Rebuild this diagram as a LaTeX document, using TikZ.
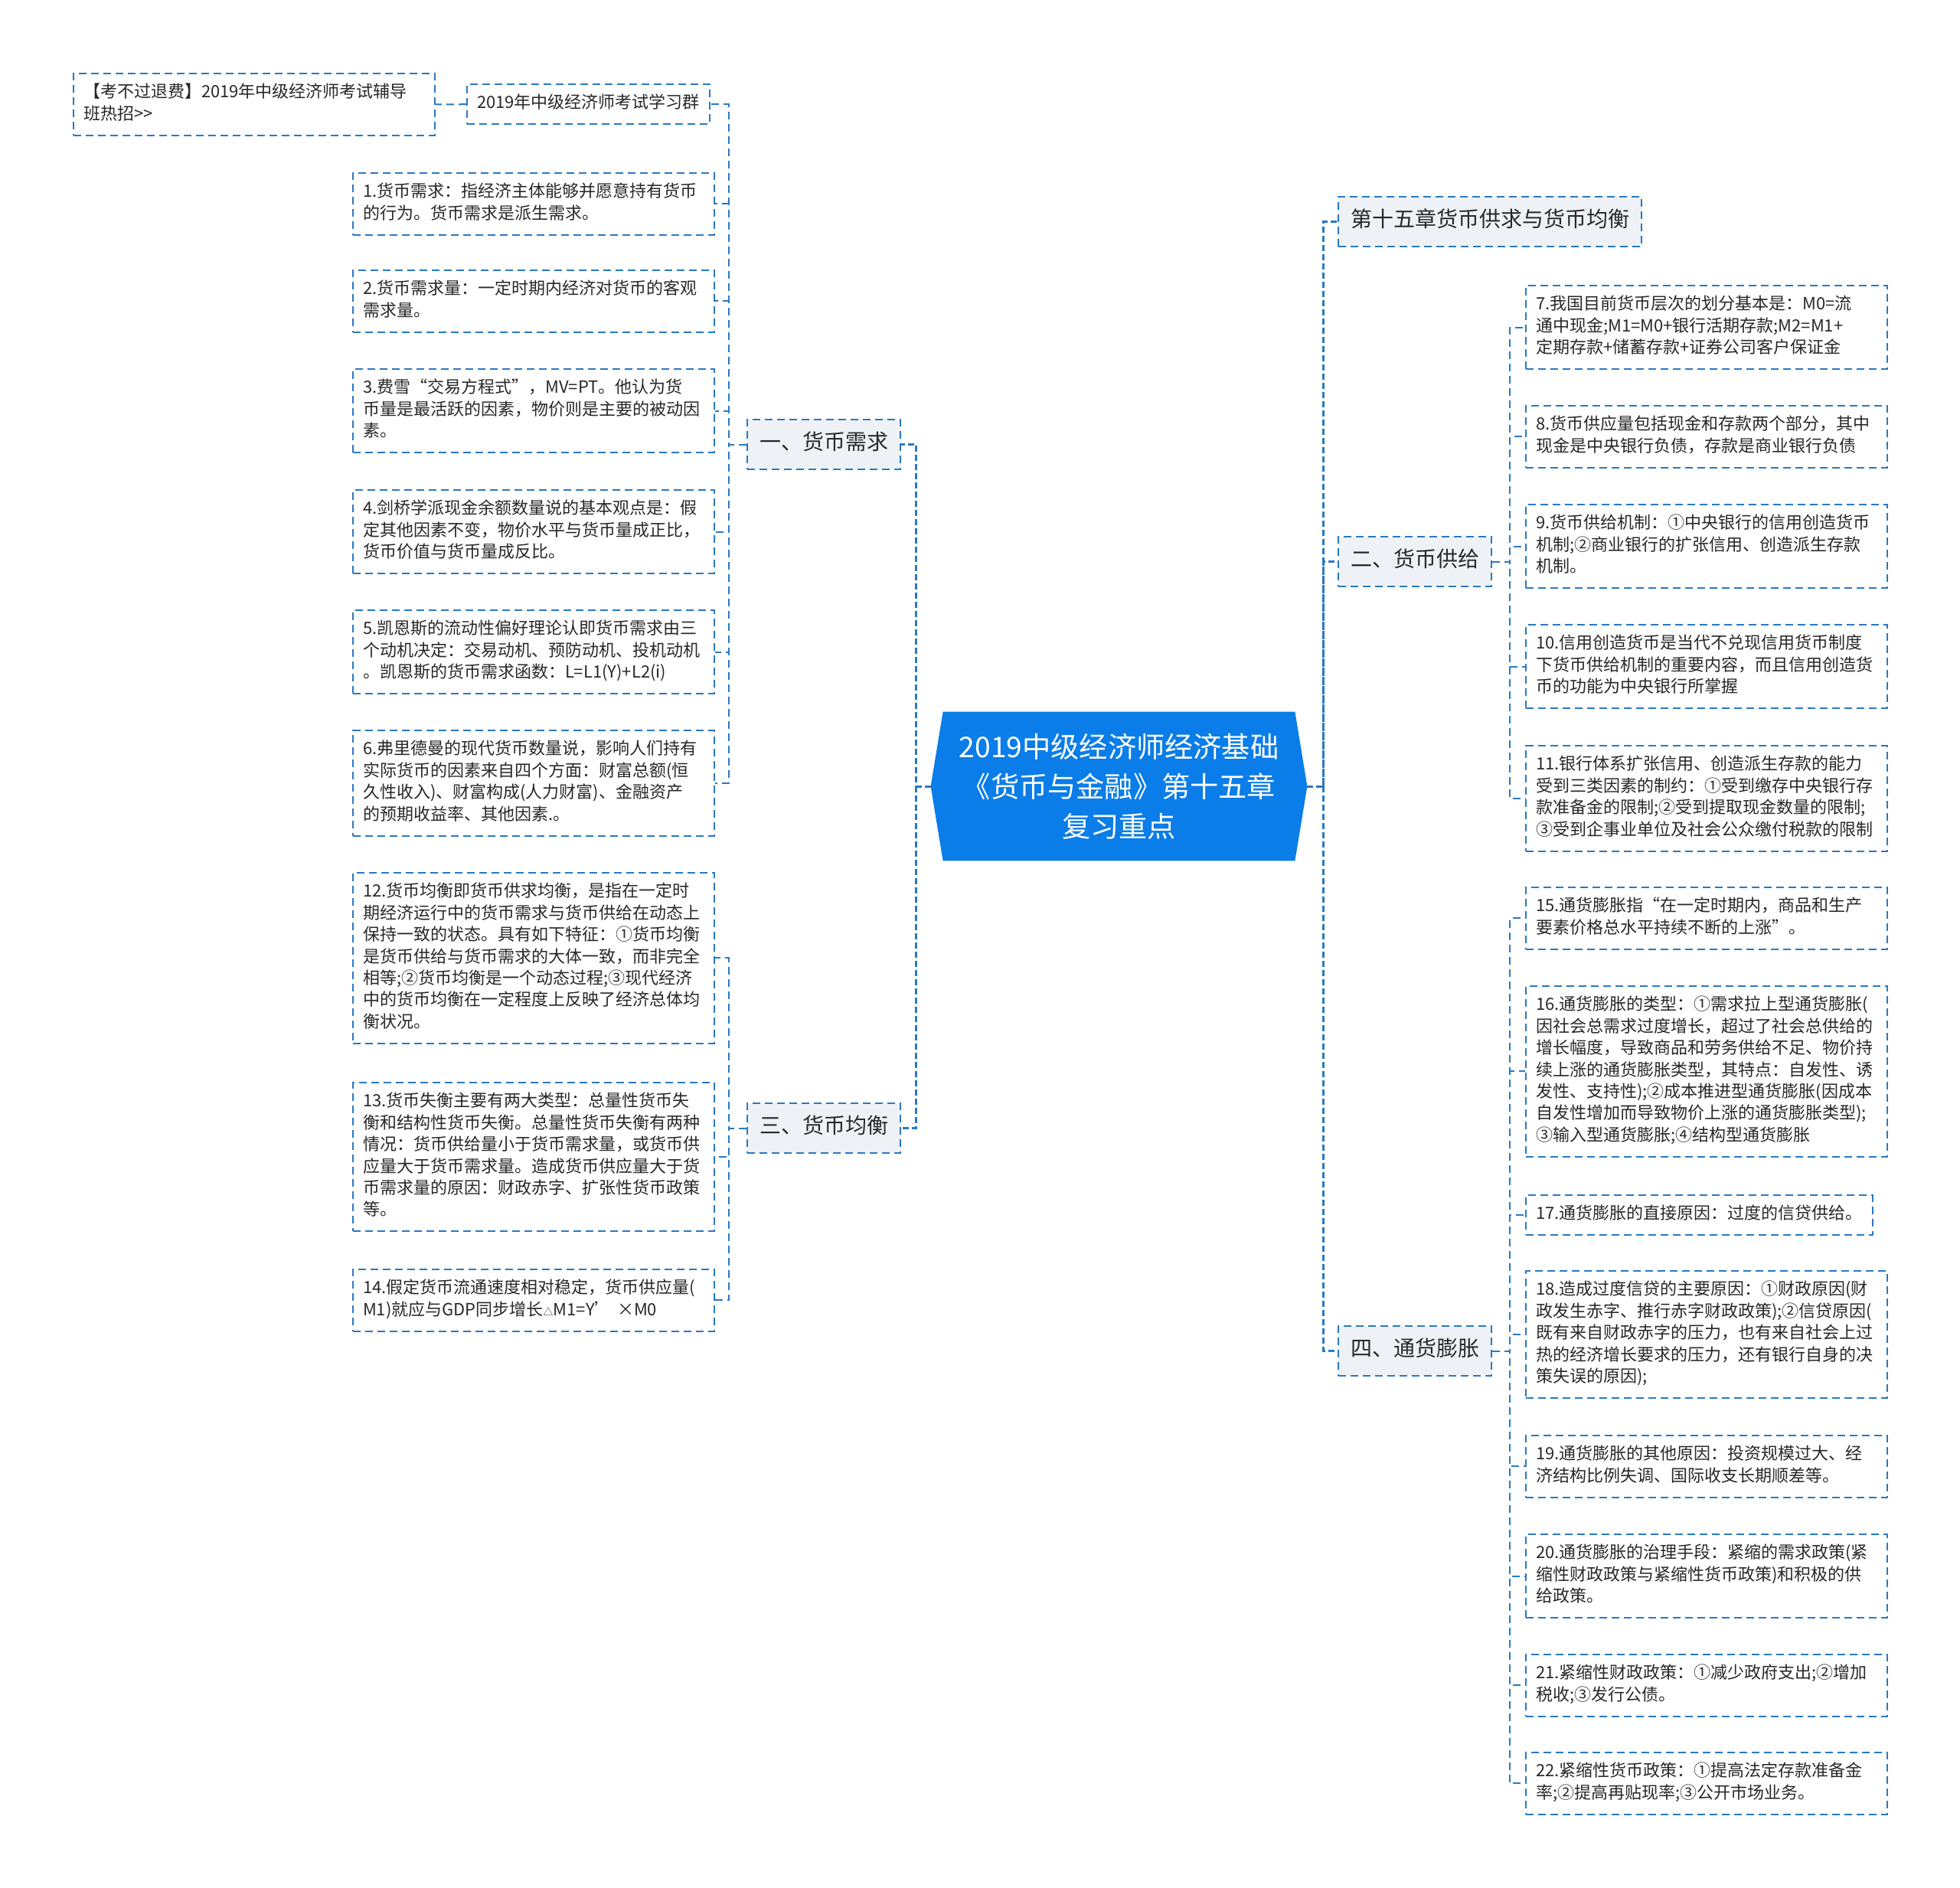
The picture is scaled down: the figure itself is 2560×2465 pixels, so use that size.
\documentclass[tikz,border=0pt]{standalone}
\usepackage{fontspec}
\setmainfont{Noto Sans CJK SC}
\usetikzlibrary{calc,backgrounds}

\definecolor{linkblue}{RGB}{40,121,196}
\definecolor{rootblue}{RGB}{10,125,232}
\definecolor{topicgray}{RGB}{238,242,246}
\definecolor{inkgray}{RGB}{40,40,40}

\newcommand{\leaffont}{\fontsize{11}{14.2}\selectfont}
\newcommand{\topicfont}{\fontsize{14}{18}\selectfont}
\newcommand{\rootfont}{\fontsize{18.6}{26}\selectfont}

\tikzset{
  box/.style={draw=linkblue, line width=1pt, dash pattern=on 5pt off 3pt, fill=white, text=inkgray,
    font=\leaffont, align=left, anchor=north west, inner xsep=6.5pt, inner ysep=6pt,
    execute at begin node=\strut, execute at end node=\strut},
  leaf/.style={box, text width=223pt},
  topic/.style={box, fill=topicgray, font=\topicfont, inner xsep=8pt, inner ysep=0pt, minimum height=32.5pt},
  root/.style={text=white, font=\rootfont, align=center, inner sep=0pt, minimum width=245.5pt, minimum height=97pt},
  trunk/.style={draw=linkblue, line width=1.5pt, dash pattern=on 4pt off 2pt},
  branch/.style={draw=linkblue, line width=1pt, dash pattern=on 5pt off 3pt}
}

\begin{document}
\begin{tikzpicture}[x=0.5pt,y=-0.5pt]
    \useasboundingbox (0,0) rectangle (2560,2465);

    \node[root] (root) at (1461.5,1027) {2019中级经济师经济基础\\《货币与金融》第十五章\\复习重点};
    \begin{pgfonlayer}{background}
        \fill[rootblue] (root.west) -- ([xshift=8pt]root.north west) -- ([xshift=-8pt]root.north east) -- (root.east)
            -- ([xshift=-8pt]root.south east) -- ([xshift=8pt]root.south west) -- cycle;
    \end{pgfonlayer}

    \node[topic] (t1) at (975,547) {一、货币需求};
    \node[topic] (t3) at (975,1440) {三、货币均衡};
    \node[topic] (t0) at (1747,256) {第十五章货币供求与货币均衡};
    \node[topic] (t2) at (1747,700) {二、货币供给};
    \node[topic] (t4) at (1747,1731) {四、通货膨胀};

    \node[leaf] (ad) at (95,95) {【考不过退费】2019年中级经济师考试辅导\\班热招>{}>};
    \node[box] (g) at (609,109) {2019年中级经济师考试学习群};
    \node[leaf] (a1) at (460,225) {1.货币需求：指经济主体能够并愿意持有货币\\的行为。货币需求是派生需求。};
    \node[leaf] (a2) at (460,352) {2.货币需求量：一定时期内经济对货币的客观\\需求量。};
    \node[leaf] (a3) at (460,481) {3.费雪“交易方程式”，MV=PT。他认为货\\币量是最活跃的因素，物价则是主要的被动因\\素。};
    \node[leaf] (a4) at (460,639) {4.剑桥学派现金余额数量说的基本观点是：假\\定其他因素不变，物价水平与货币量成正比，\\货币价值与货币量成反比。};
    \node[leaf] (a5) at (460,796) {5.凯恩斯的流动性偏好理论认即货币需求由三\\个动机决定：交易动机、预防动机、投机动机\\。凯恩斯的货币需求函数：L=L1(Y)+L2(i)};
    \node[leaf] (a6) at (460,953) {6.弗里德曼的现代货币数量说，影响人们持有\\实际货币的因素来自四个方面：财富总额(恒\\久性收入)、财富构成(人力财富)、金融资产\\的预期收益率、其他因素.。};

    \node[leaf] (c12) at (460,1139) {12.货币均衡即货币供求均衡，是指在一定时\\期经济运行中的货币需求与货币供给在动态上\\保持一致的状态。具有如下特征：①货币均衡\\是货币供给与货币需求的大体一致，而非完全\\相等;②货币均衡是一个动态过程;③现代经济\\中的货币均衡在一定程度上反映了经济总体均\\衡状况。};
    \node[leaf] (c13) at (460,1413) {13.货币失衡主要有两大类型：总量性货币失\\衡和结构性货币失衡。总量性货币失衡有两种\\情况：货币供给量小于货币需求量，或货币供\\应量大于货币需求量。造成货币供应量大于货\\币需求量的原因：财政赤字、扩张性货币政策\\等。};
    \node[leaf] (c14) at (460,1657) {14.假定货币流通速度相对稳定，货币供应量(\\M1)就应与GDP同步增长{\fontsize{6.5}{7}\selectfont △}M1=Y’ ×M0};

    \node[leaf] (b7) at (1992,372) {7.我国目前货币层次的划分基本是：M0=流\\通中现金;M1=M0+银行活期存款;M2=M1+\\定期存款+储蓄存款+证券公司客户保证金};
    \node[leaf] (b8) at (1992,529) {8.货币供应量包括现金和存款两个部分，其中\\现金是中央银行负债，存款是商业银行负债};
    \node[leaf] (b9) at (1992,658) {9.货币供给机制：①中央银行的信用创造货币\\机制;②商业银行的扩张信用、创造派生存款\\机制。};
    \node[leaf] (b10) at (1992,815) {10.信用创造货币是当代不兑现信用货币制度\\下货币供给机制的重要内容，而且信用创造货\\币的功能为中央银行所掌握};
    \node[leaf] (b11) at (1992,973) {11.银行体系扩张信用、创造派生存款的能力\\受到三类因素的制约：①受到缴存中央银行存\\款准备金的限制;②受到提取现金数量的限制;\\③受到企事业单位及社会公众缴付税款的限制};

    \node[leaf] (d15) at (1992,1158) {15.通货膨胀指“在一定时期内，商品和生产\\要素价格总水平持续不断的上涨”。};
    \node[leaf] (d16) at (1992,1287) {16.通货膨胀的类型：①需求拉上型通货膨胀(\\因社会总需求过度增长，超过了社会总供给的\\增长幅度，导致商品和劳务供给不足、物价持\\续上涨的通货膨胀类型，其特点：自发性、诱\\发性、支持性);②成本推进型通货膨胀(因成本\\自发性增加而导致物价上涨的通货膨胀类型);\\③输入型通货膨胀;④结构型通货膨胀};
    \node[box] (d17) at (1992,1560) {17.通货膨胀的直接原因：过度的信贷供给。};
    \node[leaf] (d18) at (1992,1659) {18.造成过度信贷的主要原因：①财政原因(财\\政发生赤字、推行赤字财政政策);②信贷原因(\\既有来自财政赤字的压力，也有来自社会上过\\热的经济增长要求的压力，还有银行自身的决\\策失误的原因);};
    \node[leaf] (d19) at (1992,1874) {19.通货膨胀的其他原因：投资规模过大、经\\济结构比例失调、国际收支长期顺差等。};
    \node[leaf] (d20) at (1992,2003) {20.通货膨胀的治理手段：紧缩的需求政策(紧\\缩性财政政策与紧缩性货币政策)和积极的供\\给政策。};
    \node[leaf] (d21) at (1992,2160) {21.紧缩性财政政策：①减少政府支出;②增加\\税收;③发行公债。};
    \node[leaf] (d22) at (1992,2288) {22.紧缩性货币政策：①提高法定存款准备金\\率;②提高再贴现率;③公开市场业务。};

    \draw[trunk] (root.west) -- ++(-19,0) coordinate (jl) |- (t1.east);
    \draw[trunk] (jl) |- (t3.east);
    \draw[trunk] (root.east) -- ++(21,0) coordinate (jr) |- (t0.west);
    \foreach \t in {t2,t4} \draw[trunk] (jr) |- (\t.west);

    \foreach \n in {g,a1,a2,a3,a4,a5,a6} \draw[branch] (t1.west) -- ++(-23,0) |- (\n.east);
    \foreach \n in {c12,c13,c14} \draw[branch] (t3.west) -- ++(-23,0) |- (\n.east);
    \foreach \n in {b7,b8,b9,b10,b11} \draw[branch] (t2.east) -- ++(23,0) |- (\n.west);
    \foreach \n in {d15,d16,d17,d18,d19,d20,d21,d22} \draw[branch] (t4.east) -- ++(23,0) |- (\n.west);
    \draw[branch] (g.west) -- (ad.east);
\end{tikzpicture}
\end{document}
